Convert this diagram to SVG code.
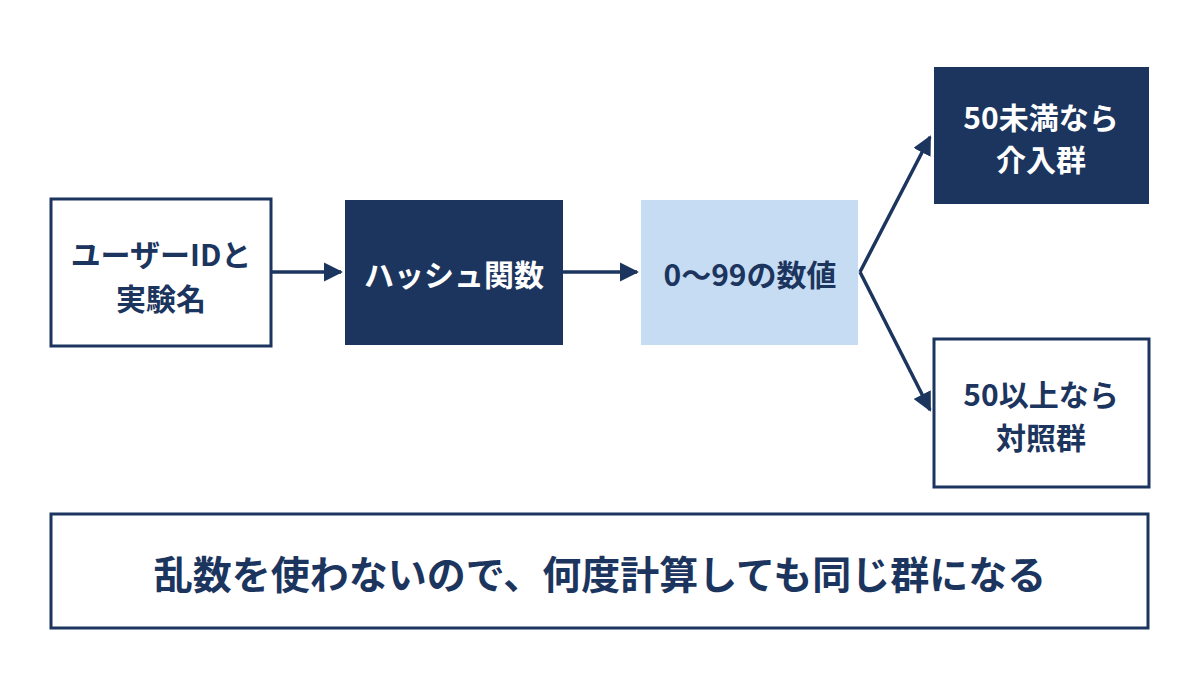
<svg xmlns="http://www.w3.org/2000/svg" width="1200" height="675" viewBox="0 0 1200 675">
<style>
text{font-family:"Noto Sans CJK JP","Noto Sans",sans-serif;font-weight:700;text-anchor:middle;dominant-baseline:central}
.o{fill:#fff;stroke:#1c355e;stroke-width:3}
.d{fill:#1c355e}
.l{fill:#c6dcf2}
.t{fill:#1c355e;font-size:30px}
.w{fill:#fff;font-size:30px}
.c{stroke:#1c355e;stroke-width:3.5;fill:none}
</style>
<defs><marker id="a" viewBox="0 0 10 10" refX="9" refY="5" markerWidth="5.5" markerHeight="5.5" orient="auto"><path d="M0,0L10,5L0,10z" fill="#1c355e"/></marker></defs>
<rect width="1200" height="675" fill="#fff"/>
<g id="n1"><rect class="o" x="51" y="199" width="220" height="147"/><text class="t" x="161" y="253">ユーザーIDと</text><text class="t" x="161" y="297">実験名</text></g>
<g id="n2"><rect class="d" x="345" y="200" width="218" height="145"/><text class="w" x="454" y="273">ハッシュ関数</text></g>
<g id="n3"><rect class="l" x="641" y="200" width="217" height="145"/><text class="t" x="750" y="273">0〜99の数値</text></g>
<g id="n4"><rect class="d" x="934" y="67" width="215" height="137"/><text class="w" x="1041" y="116">50未満なら</text><text class="w" x="1041" y="158">介入群</text></g>
<g id="n5"><rect class="o" x="934" y="339" width="215" height="148"/><text class="t" x="1041" y="393">50以上なら</text><text class="t" x="1041" y="436">対照群</text></g>
<g id="n6"><rect class="o" x="51" y="514" width="1097" height="114"/><text class="t" x="600" y="572" style="font-size:39px">乱数を使わないので、何度計算しても同じ群になる</text></g>
<g id="connectors">
<path class="c" d="M271,272H341" marker-end="url(#a)"/>
<path class="c" d="M563,272H637" marker-end="url(#a)"/>
<path class="c" d="M860,272L930,137" marker-end="url(#a)"/>
<path class="c" d="M860,272L930,410" marker-end="url(#a)"/>
</g>
</svg>
